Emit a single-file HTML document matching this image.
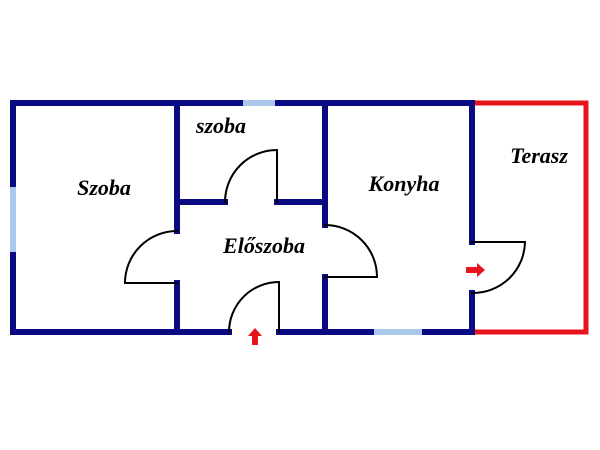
<!DOCTYPE html>
<html><head><style>
body{margin:0;background:#fff}svg{display:block}
text{font-family:"Liberation Serif","DejaVu Serif","Noto Serif CJK SC","Liberation Mono",serif;font-weight:bold;font-style:italic;font-size:22px}
</style></head><body>
<svg width="600" height="450" viewBox="0 0 600 450" xmlns="http://www.w3.org/2000/svg">
<g fill="none" stroke-linecap="square">
<polyline points="472,103 586,103 586,332 472,332" stroke="#e8141b" stroke-width="5"/>
<g stroke="#0a0a82" stroke-width="6">
<polyline points="13,186 13,103 472,103 472,242"/>
<polyline points="13,252 13,332 229,332"/>
<polyline points="279,332 472,332 472,293"/>
<line x1="177" y1="103" x2="177" y2="231"/>
<line x1="177" y1="283" x2="177" y2="332"/>
<line x1="177" y1="202" x2="225" y2="202"/>
<line x1="277" y1="202" x2="325" y2="202"/>
<line x1="325" y1="103" x2="325" y2="225"/>
<line x1="325" y1="277" x2="325" y2="332"/>
</g>
<g stroke="#a9c8ec" stroke-width="6" stroke-linecap="butt">
<line x1="243" y1="103" x2="275" y2="103"/>
<line x1="13" y1="187" x2="13" y2="252"/>
<line x1="374" y1="332" x2="422" y2="332"/>
</g>
<g stroke="#000" stroke-width="2">
<path d="M225,202 A52,52 0 0 1 277,150 L277,202"/>
<path d="M177,231 A52,52 0 0 0 125,283 L177,283"/>
<path d="M325,225 A52,52 0 0 1 377,277 L325,277"/>
<path d="M229,332 A50,50 0 0 1 279,282 L279,332"/>
<path d="M472,242 L525,242 A52,52 0 0 1 472,293"/>
</g>
</g>
<g fill="#e8141b">
<polygon points="255,328 262,336 258,336 258,345 252,345 252,336 248,336"/>
<polygon points="485,270 477,263 477,267 466,267 466,273 477,273 477,277"/>
</g>
<g fill="#000" text-anchor="middle">
<text x="104" y="195">Szoba</text>
<text x="221" y="133">szoba</text>
<text x="264" y="253">Előszoba</text>
<text x="404" y="191">Konyha</text>
<text x="539" y="163">Terasz</text>
</g>
</svg>
</body></html>
